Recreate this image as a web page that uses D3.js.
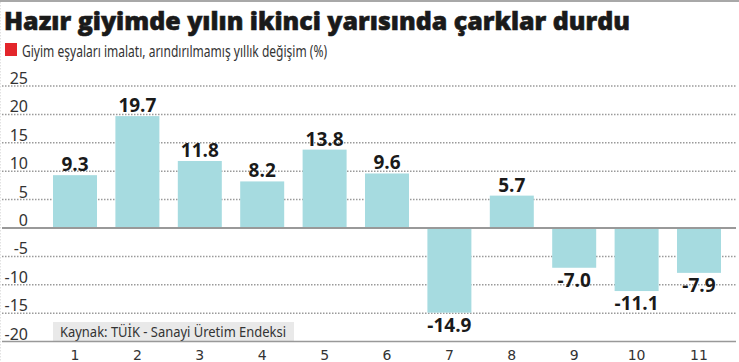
<!DOCTYPE html>
<html><head><meta charset="utf-8">
<script src="https://cdn.jsdelivr.net/npm/d3@7/dist/d3.min.js"></script>
<style>body{margin:0;background:#fff}svg{display:block}</style>
</head><body>
<script>
const categories = ["1","2","3","4","5","6","7","8","9","10","11"];
const values = [9.3, 19.7, 11.8, 8.2, 13.8, 9.6, -14.9, 5.7, -7.0, -11.1, -7.9];
const yTicks = [25, 20, 15, 10, 5, 0, -5, -10, -15, -20];
const title = "Hazır giyimde yılın ikinci yarısında çarklar durdu";
const subtitle = "Giyim eşyaları imalatı, arındırılmamış yıllık değişim (%)";
const source = "Kaynak: TÜİK - Sanayi Üretim Endeksi";

const W = 739, H = 362;
const svg = d3.select("body").append("svg").attr("width", W).attr("height", H);

// top rule and faint left edge
svg.append("rect").attr("x",0).attr("y",0).attr("width",W).attr("height",2).attr("fill","#a8a8a8");
svg.append("line").attr("x1",0.5).attr("x2",0.5).attr("y1",2).attr("y2",H)
  .attr("stroke","#e2e2e2").attr("stroke-dasharray","1.5,1.5");

svg.append("text").attr("x",4).attr("y",30)
  .attr("font-family","'Open Sans'").attr("font-weight",800).attr("font-size",25)
  .attr("textLength",626).attr("lengthAdjust","spacingAndGlyphs")
  .attr("stroke","#1a1a1a").attr("stroke-width",0.6)
  .attr("fill","#1a1a1a").text(title);

svg.append("rect").attr("x",5).attr("y",43).attr("width",12).attr("height",13).attr("fill","#e3262b");
svg.append("text").attr("x",22).attr("y",56.5)
  .attr("font-family","'Noto Sans'").attr("font-size",16.5)
  .attr("textLength",305).attr("lengthAdjust","spacingAndGlyphs")
  .attr("fill","#333").text(subtitle);

const x = d3.scaleBand().domain(categories).range([43.8, 730.2]).paddingInner(0.295).paddingOuter(0.1475);
const y = d3.scaleLinear().domain([-20, 25]).range([341.6, 86]);

// grid
const g = svg.append("g");
g.selectAll("line.grid").data(yTicks.filter(t => t !== 0 && t !== -20)).join("line")
  .attr("x1", 2).attr("x2", 736)
  .attr("y1", d => y(d)).attr("y2", d => y(d))
  .attr("stroke","#9a9a9a").attr("stroke-width",1.5).attr("stroke-dasharray","1.5,1.5");

// y labels
g.selectAll("text.yl").data(yTicks).join("text")
  .attr("x", 28).attr("y", d => y(d) - 2)
  .attr("text-anchor","end")
  .attr("font-family","'Noto Sans'").attr("font-size",16).attr("fill","#333")
  .text(d => d);

// source box
svg.append("rect").attr("x", x("1")).attr("y", 322).attr("width", 241).attr("height", y(-20) - 322).attr("fill","#e9e9e9");
svg.append("text").attr("x", x("1") + 7).attr("y", 337)
  .attr("font-family","'Noto Sans'").attr("font-size",14).attr("fill","#333")
  .attr("textLength",226).attr("lengthAdjust","spacingAndGlyphs")
  .text(source);

// bars
svg.selectAll("rect.bar").data(values).join("rect")
  .attr("x", (d,i) => x(categories[i]))
  .attr("width", x.bandwidth())
  .attr("y", d => d >= 0 ? y(d) : y(0))
  .attr("height", d => Math.abs(y(d) - y(0)))
  .attr("fill","#a6dbe0");

// zero line and bottom axis
svg.append("line").attr("x1",2).attr("x2",736).attr("y1",y(0)).attr("y2",y(0))
  .attr("stroke","#999").attr("stroke-width",2);
svg.append("line").attr("x1",2).attr("x2",736).attr("y1",y(-20)).attr("y2",y(-20))
  .attr("stroke","#999").attr("stroke-width",1.5);

// value labels
svg.selectAll("text.val").data(values).join("text")
  .attr("x", (d,i) => x(categories[i]) + x.bandwidth()/2)
  .attr("y", d => d >= 0 ? y(d) - 4 : y(d) + 19)
  .attr("text-anchor","middle")
  .attr("font-family","'Open Sans'").attr("font-weight",700).attr("font-size",19)
  .attr("fill","#1a1a1a")
  .text(d => d.toFixed(1));

// x axis labels
const xAxis = svg.append("g").attr("transform", `translate(0,${y(-20)})`)
  .call(d3.axisBottom(x).tickSize(0).tickPadding(8));
xAxis.select(".domain").remove();
xAxis.selectAll("text").attr("font-family","'DejaVu Sans'").attr("font-size",14).attr("fill","#333");
</script>
</body></html>
